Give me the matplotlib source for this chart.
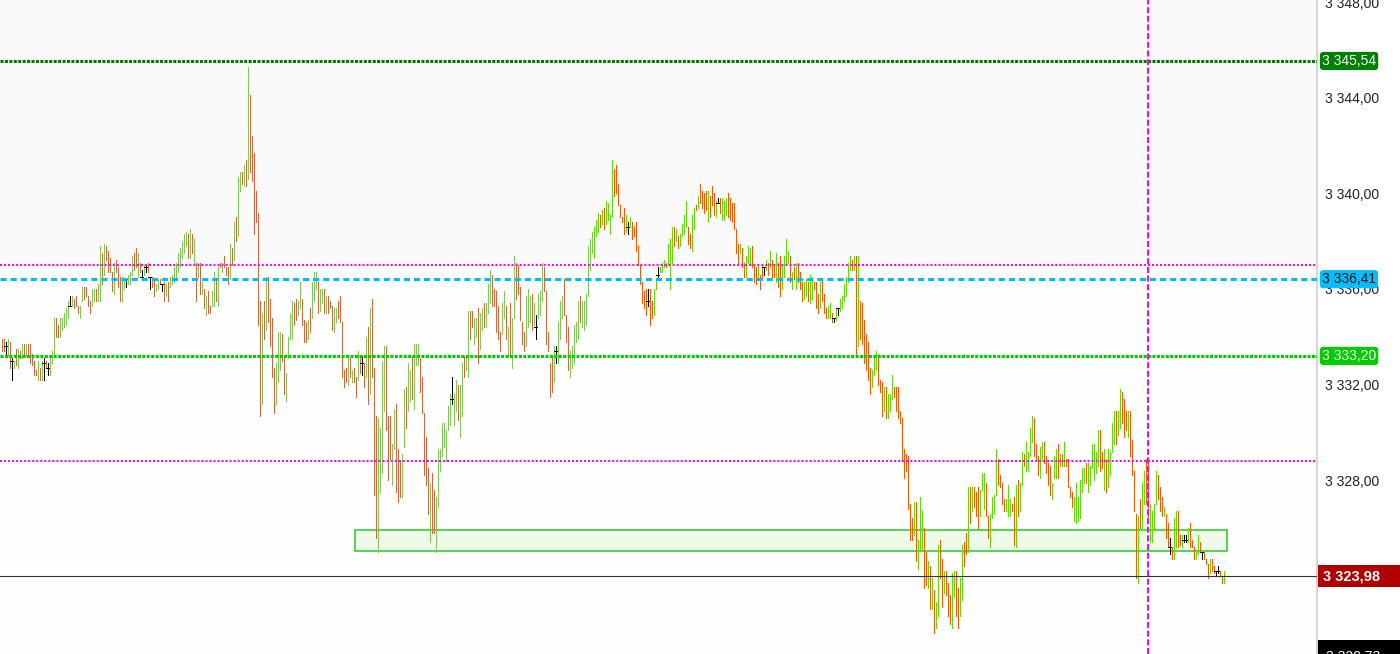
import matplotlib
matplotlib.use("Agg")
import matplotlib.pyplot as plt
import matplotlib.transforms as mtransforms
from matplotlib.patches import Rectangle
import numpy as np

plt.rcParams['font.family'] = ['Liberation Sans', 'DejaVu Sans']

# ---------------------------------------------------------------------------
# Data: bar highs / lows (one bar per index), direction u=up d=down n=flat
# ---------------------------------------------------------------------------
highs = [
    3333.9, 3333.9, 3333.8, 3333.9, 3333.8, 3333.1, 3333.0, 3333.5, 3333.5, 3333.4,
    3333.7, 3333.7, 3333.7, 3333.7, 3333.7, 3333.3, 3333.0, 3332.6, 3333.0, 3332.7,
    3333.0, 3333.1, 3333.0, 3332.9, 3333.2, 3333.4, 3334.8, 3334.8, 3334.5, 3334.8,
    3334.8, 3335.0, 3335.2, 3335.5, 3335.7, 3335.7, 3335.6, 3335.7, 3335.3, 3335.3,
    3336.1, 3336.1, 3336.1, 3335.7, 3335.5, 3336.0, 3336.0, 3336.0, 3336.2, 3337.8,
    3337.5, 3337.9, 3337.8, 3337.6, 3337.3, 3336.7, 3337.1, 3337.2, 3336.9, 3336.5,
    3336.5, 3336.4, 3336.4, 3336.6, 3336.7, 3337.4, 3337.5, 3337.7, 3337.5, 3337.1,
    3336.8, 3337.0, 3337.0, 3337.1, 3336.5, 3336.5, 3336.4, 3336.2, 3336.4, 3336.4,
    3336.2, 3336.3, 3336.2, 3336.3, 3336.5, 3336.6, 3336.9, 3337.1, 3337.5, 3337.7,
    3338.0, 3338.3, 3338.4, 3338.3, 3338.5, 3338.3, 3338.1, 3337.1, 3337.1, 3337.1,
    3336.3, 3336.0, 3335.7, 3335.9, 3335.3, 3335.9, 3336.7, 3336.4, 3336.9, 3337.1,
    3337.1, 3337.4, 3336.9, 3336.9, 3337.9, 3337.7, 3338.8, 3339.0, 3340.7, 3340.9,
    3340.9, 3341.2, 3341.4, 3345.3, 3344.1, 3342.4, 3341.7, 3340.1, 3339.2, 3335.5,
    3335.0, 3335.5, 3336.5, 3336.5, 3335.6, 3334.8, 3332.7, 3332.9, 3334.2, 3334.2,
    3334.1, 3333.1, 3332.5, 3334.0, 3335.0, 3335.5, 3335.4, 3335.6, 3335.5, 3336.3,
    3335.6, 3334.7, 3334.6, 3334.7, 3335.2, 3336.3, 3336.7, 3336.7, 3336.3, 3336.0,
    3336.0, 3336.0, 3335.7, 3335.7, 3335.5, 3335.3, 3335.2, 3335.2, 3335.5, 3335.7,
    3334.6, 3332.6, 3332.7, 3333.2, 3333.1, 3332.6, 3332.7, 3332.3, 3333.4, 3333.2,
    3333.2, 3332.9, 3334.0, 3334.4, 3335.2, 3335.6, 3332.7, 3330.7, 3330.6, 3330.2,
    3333.0, 3333.6, 3333.6, 3330.7, 3330.7, 3329.5, 3331.0, 3331.2, 3329.3, 3328.8,
    3329.1, 3331.8, 3331.9, 3332.9, 3332.6, 3333.2, 3333.7, 3333.7, 3333.7, 3333.1,
    3332.3, 3330.8, 3329.8, 3328.5, 3327.9, 3328.3, 3327.6, 3327.3, 3329.3, 3329.3,
    3330.4, 3330.4, 3330.1, 3331.1, 3331.6, 3332.3, 3331.6, 3332.2, 3332.0, 3332.0,
    3332.9, 3333.2, 3333.2, 3335.1, 3335.1, 3335.1, 3334.8, 3334.8, 3335.2, 3335.0,
    3335.2, 3335.4, 3335.4, 3336.2, 3336.8, 3336.6, 3336.0, 3335.9, 3335.3, 3334.2,
    3335.4, 3335.9, 3335.3, 3334.4, 3335.4, 3334.8, 3337.4, 3337.1, 3337.0, 3336.1,
    3334.6, 3334.2, 3335.7, 3336.0, 3335.7, 3335.8, 3335.4, 3334.9, 3335.8, 3335.9,
    3337.1, 3336.9, 3335.9, 3334.2, 3332.9, 3333.2, 3333.6, 3333.6, 3334.6, 3335.5,
    3335.7, 3336.4, 3334.9, 3334.4, 3333.4, 3333.6, 3334.5, 3334.6, 3335.5, 3335.7,
    3335.5, 3335.5, 3335.8, 3337.8, 3338.1, 3338.4, 3338.6, 3338.9, 3339.2, 3339.1,
    3339.3, 3339.4, 3339.7, 3339.6, 3339.1, 3341.4, 3341.0, 3341.2, 3340.4, 3339.5,
    3339.0, 3339.4, 3339.1, 3338.8, 3339.0, 3338.8, 3338.6, 3338.8, 3337.8, 3337.0,
    3336.3, 3335.9, 3336.0, 3336.0, 3336.0, 3335.5, 3336.0, 3336.4, 3336.9, 3336.9,
    3337.1, 3337.2, 3337.1, 3337.9, 3338.1, 3338.6, 3338.6, 3338.5, 3338.2, 3338.3,
    3338.7, 3339.1, 3339.7, 3338.6, 3338.3, 3339.1, 3339.4, 3339.5, 3339.9, 3340.4,
    3340.1, 3340.0, 3340.1, 3340.1, 3339.9, 3340.3, 3340.0, 3339.7, 3339.8, 3339.8,
    3339.8, 3339.7, 3339.8, 3340.0, 3339.8, 3339.6, 3339.6, 3338.5, 3337.9, 3337.9,
    3337.7, 3337.1, 3337.4, 3337.8, 3337.7, 3337.8, 3337.0, 3336.9, 3337.0, 3336.6,
    3337.0, 3336.9, 3337.2, 3337.1, 3337.6, 3337.2, 3337.0, 3337.5, 3337.1, 3337.4,
    3337.0, 3337.4, 3338.1, 3337.6, 3337.4, 3336.7, 3336.9, 3337.1, 3337.1, 3336.7,
    3336.3, 3336.3, 3336.4, 3336.3, 3336.6, 3336.5, 3336.3, 3336.3, 3335.8, 3336.4,
    3336.4, 3335.8, 3335.2, 3335.3, 3335.4, 3335.0, 3334.8, 3335.2, 3335.2, 3335.6,
    3335.7, 3336.2, 3336.5, 3337.1, 3337.4, 3337.2, 3337.4, 3337.4, 3337.4, 3335.5,
    3335.4, 3334.7, 3334.1, 3333.8, 3332.7, 3332.6, 3333.2, 3333.4, 3333.3, 3332.2,
    3332.1, 3331.9, 3331.9, 3331.6, 3331.6, 3332.4, 3331.9, 3331.9, 3331.9, 3330.9,
    3330.6, 3329.3, 3329.1, 3329.0, 3327.0, 3326.4, 3327.1, 3327.1, 3325.5, 3327.3,
    3326.7, 3326.0, 3325.0, 3324.6, 3324.4, 3323.9, 3323.4, 3322.9, 3325.3, 3325.5,
    3324.7, 3324.2, 3324.2, 3323.7, 3323.2, 3324.1, 3324.2, 3324.2, 3323.5, 3323.9,
    3325.3, 3325.4, 3325.8, 3327.7, 3327.7, 3327.7, 3327.7, 3327.5, 3327.7, 3327.6,
    3328.3, 3328.3, 3327.9, 3326.5, 3326.6, 3327.3, 3327.4, 3329.3, 3328.9, 3328.2,
    3327.9, 3327.2, 3327.2, 3327.8, 3327.2, 3327.0, 3327.3, 3327.8, 3328.0, 3327.9,
    3329.2, 3329.1, 3329.6, 3329.2, 3330.2, 3330.7, 3330.6, 3329.5, 3329.0, 3329.4,
    3329.6, 3329.6, 3329.0, 3328.7, 3328.6, 3327.9, 3329.0, 3329.3, 3329.5, 3329.1,
    3329.1, 3329.6, 3328.9, 3328.9, 3327.7, 3327.5, 3327.3, 3327.9, 3327.3, 3328.0,
    3328.5, 3328.5, 3328.7, 3328.7, 3328.6, 3329.5, 3329.5, 3329.2, 3330.1, 3330.1,
    3329.2, 3329.3, 3328.9, 3329.3, 3329.2, 3330.4, 3330.9, 3330.9, 3330.9, 3331.8,
    3331.7, 3331.4, 3330.9, 3330.9, 3330.9, 3329.7, 3328.4, 3326.6, 3326.5, 3327.2,
    3327.9, 3328.4, 3328.9, 3328.8, 3327.0, 3326.7, 3327.0, 3328.4, 3328.2, 3327.7,
    3327.3, 3326.9, 3326.6, 3326.2, 3325.6, 3325.2, 3326.4, 3326.7, 3326.7, 3325.7,
    3325.7, 3325.7, 3325.7, 3326.0, 3326.2, 3325.5, 3325.2, 3325.0, 3325.7, 3325.4,
    3325.0, 3325.0, 3324.7, 3324.5, 3324.7, 3324.7, 3324.4, 3324.2, 3324.4, 3324.2,
    3324.0, 3324.2,
]

lows = [
    3333.4, 3333.4, 3333.3, 3333.2, 3332.7, 3332.2, 3332.7, 3332.8, 3332.7, 3333.1,
    3333.1, 3333.2, 3333.2, 3333.2, 3332.9, 3332.8, 3332.4, 3332.4, 3332.2, 3332.2,
    3332.2, 3332.2, 3332.7, 3332.4, 3332.4, 3332.9, 3333.2, 3334.0, 3334.0, 3334.0,
    3334.3, 3334.4, 3334.5, 3334.8, 3335.3, 3335.3, 3335.2, 3335.3, 3335.0, 3334.8,
    3335.5, 3335.6, 3335.7, 3335.3, 3335.0, 3335.3, 3335.5, 3335.5, 3335.5, 3335.5,
    3336.2, 3336.6, 3337.2, 3336.7, 3336.7, 3335.9, 3335.8, 3336.7, 3336.1, 3335.5,
    3335.5, 3336.0, 3336.1, 3336.2, 3336.2, 3336.6, 3336.8, 3336.9, 3336.5, 3336.7,
    3336.5, 3336.6, 3336.7, 3336.7, 3336.0, 3336.1, 3335.7, 3335.9, 3336.0, 3336.2,
    3335.9, 3335.5, 3335.7, 3335.5, 3336.1, 3336.2, 3336.3, 3336.5, 3336.7, 3336.9,
    3337.3, 3337.5, 3337.8, 3337.3, 3337.3, 3337.5, 3337.1, 3335.5, 3336.5, 3335.8,
    3335.8, 3335.2, 3334.9, 3335.0, 3335.0, 3335.3, 3335.3, 3335.5, 3335.3, 3336.9,
    3336.7, 3336.9, 3336.6, 3336.2, 3336.4, 3337.0, 3337.2, 3338.0, 3338.2, 3340.1,
    3340.4, 3340.3, 3340.3, 3340.6, 3340.9, 3340.5, 3338.3, 3338.8, 3334.5, 3330.7,
    3331.2, 3333.9, 3334.3, 3334.6, 3333.6, 3332.3, 3330.8, 3331.2, 3332.1, 3332.6,
    3333.0, 3331.6, 3331.3, 3333.1, 3333.9, 3333.9, 3334.5, 3334.7, 3334.9, 3335.2,
    3334.5, 3333.8, 3333.8, 3333.9, 3334.2, 3334.8, 3335.5, 3336.0, 3335.0, 3335.1,
    3335.4, 3335.0, 3335.0, 3335.0, 3335.2, 3334.3, 3334.2, 3334.6, 3334.8, 3334.6,
    3332.3, 3331.9, 3332.1, 3332.0, 3332.3, 3332.1, 3332.1, 3331.5, 3332.2, 3332.5,
    3332.4, 3331.9, 3332.3, 3331.2, 3331.6, 3332.3, 3327.4, 3325.6, 3325.0, 3327.5,
    3328.3, 3330.9, 3330.1, 3328.0, 3328.9, 3327.8, 3329.3, 3327.5, 3327.1, 3327.3,
    3327.3, 3329.4, 3330.2, 3330.9, 3331.3, 3331.4, 3331.0, 3332.8, 3332.8, 3331.7,
    3330.8, 3328.2, 3327.8, 3326.6, 3325.4, 3325.8, 3325.8, 3325.0, 3326.9, 3328.4,
    3329.0, 3329.4, 3328.8, 3330.1, 3330.3, 3331.2, 3330.3, 3330.9, 3330.5, 3329.8,
    3330.7, 3332.3, 3332.6, 3332.3, 3333.9, 3334.4, 3333.7, 3334.0, 3332.9, 3333.5,
    3334.3, 3334.4, 3334.4, 3335.0, 3335.4, 3335.3, 3335.3, 3334.2, 3333.9, 3333.4,
    3334.1, 3334.8, 3333.9, 3333.2, 3333.2, 3332.7, 3334.8, 3335.6, 3335.8, 3334.7,
    3333.7, 3333.4, 3333.6, 3334.4, 3334.6, 3334.3, 3334.5, 3333.9, 3334.8, 3334.9,
    3335.5, 3335.9, 3333.7, 3333.4, 3331.5, 3331.7, 3332.1, 3332.9, 3332.9, 3333.9,
    3334.8, 3334.9, 3333.8, 3332.6, 3332.3, 3332.7, 3332.9, 3333.8, 3333.9, 3334.6,
    3334.4, 3334.3, 3334.5, 3335.7, 3336.8, 3337.5, 3337.3, 3338.2, 3338.4, 3338.6,
    3338.7, 3338.5, 3338.7, 3338.9, 3338.3, 3339.0, 3339.9, 3340.0, 3339.5, 3339.0,
    3338.8, 3338.3, 3338.4, 3338.3, 3338.6, 3338.1, 3338.2, 3337.6, 3337.0, 3336.2,
    3335.4, 3335.2, 3334.9, 3335.3, 3334.5, 3334.8, 3334.9, 3336.0, 3336.4, 3336.7,
    3336.7, 3336.9, 3336.9, 3337.0, 3336.0, 3337.1, 3337.8, 3338.0, 3337.7, 3337.8,
    3338.2, 3338.3, 3338.6, 3337.9, 3337.7, 3337.6, 3338.5, 3339.3, 3339.4, 3339.6,
    3339.4, 3339.2, 3339.3, 3338.8, 3339.0, 3339.5, 3339.1, 3339.0, 3339.6, 3339.2,
    3338.9, 3338.9, 3339.1, 3339.0, 3338.9, 3338.8, 3338.5, 3337.5, 3337.1, 3337.5,
    3336.9, 3336.5, 3336.5, 3337.1, 3337.0, 3336.9, 3336.3, 3336.2, 3336.4, 3336.0,
    3336.5, 3336.6, 3336.8, 3336.6, 3336.9, 3336.5, 3336.5, 3336.3, 3336.1, 3335.7,
    3336.0, 3336.5, 3337.1, 3337.1, 3336.3, 3336.0, 3336.4, 3336.0, 3336.3, 3336.0,
    3335.5, 3335.6, 3335.7, 3335.5, 3335.4, 3335.6, 3336.0, 3335.2, 3335.0, 3335.2,
    3335.5, 3335.0, 3334.8, 3334.8, 3334.8, 3334.6, 3334.6, 3334.7, 3334.9, 3335.1,
    3335.2, 3335.5, 3335.7, 3336.3, 3336.8, 3336.8, 3336.8, 3333.2, 3333.6, 3333.9,
    3333.7, 3332.9, 3332.6, 3332.2, 3331.6, 3331.9, 3332.4, 3332.6, 3332.0, 3331.7,
    3330.7, 3330.9, 3330.6, 3330.6, 3330.9, 3331.4, 3331.5, 3330.9, 3330.6, 3330.4,
    3328.8, 3328.1, 3328.4, 3326.8, 3325.5, 3325.5, 3325.7, 3324.6, 3324.3, 3325.1,
    3325.1, 3323.5, 3323.6, 3323.5, 3322.6, 3322.6, 3321.6, 3321.8, 3322.3, 3323.9,
    3322.7, 3323.3, 3323.2, 3322.3, 3322.0, 3321.8, 3323.1, 3322.3, 3321.8, 3322.3,
    3323.0, 3324.4, 3324.9, 3325.0, 3326.2, 3326.7, 3326.9, 3326.5, 3326.0, 3326.5,
    3327.6, 3326.8, 3326.5, 3325.6, 3325.2, 3326.4, 3326.6, 3327.4, 3327.8, 3327.7,
    3327.0, 3326.7, 3326.7, 3326.5, 3326.5, 3326.7, 3325.3, 3325.2, 3326.5, 3326.7,
    3327.8, 3328.6, 3328.4, 3328.4, 3329.0, 3329.6, 3329.0, 3328.8, 3328.2, 3328.1,
    3328.8, 3328.7, 3328.3, 3327.8, 3327.4, 3327.2, 3328.1, 3328.1, 3328.1, 3328.6,
    3328.6, 3328.6, 3328.6, 3327.7, 3327.3, 3326.9, 3326.3, 3326.2, 3326.3, 3326.4,
    3327.5, 3327.9, 3327.9, 3327.5, 3327.8, 3328.5, 3328.0, 3328.3, 3328.6, 3328.4,
    3328.5, 3327.6, 3327.5, 3327.7, 3328.2, 3329.2, 3329.5, 3329.5, 3329.9, 3330.2,
    3330.4, 3329.8, 3330.1, 3329.8, 3329.0, 3328.2, 3326.7, 3323.9, 3323.7, 3326.0,
    3326.0, 3327.0, 3327.0, 3326.3, 3325.4, 3325.4, 3325.9, 3327.0, 3327.2, 3326.7,
    3326.5, 3326.5, 3325.6, 3325.2, 3324.9, 3324.7, 3324.7, 3325.2, 3325.2, 3325.3,
    3325.2, 3325.4, 3325.4, 3325.4, 3325.2, 3325.2, 3324.7, 3324.7, 3324.9, 3325.0,
    3324.7, 3324.7, 3324.5, 3323.9, 3324.1, 3324.2, 3324.1, 3324.0, 3324.1, 3324.0,
    3323.7, 3323.7,
]

dirs = (
    "ddnudnudud" "ududddddud" "undnuuuddu" "uuuunudddu" "udddduuduu"
    "dudddduddd" "uunuuuddud" "nundndduud" "nduduuuuuu" "uuudududud"
    "ududduudud" "udddududuu" "dududddddd" "ududddduuu" "dduuuudduu"
    "ddduduuudu" "ududdduudd" "dddududdud" "ndududdduu" "uuddduuddd"
    "uuduuduuud" "ddddudduuu" "uuuuunuudu" "uduudduudu" "uduuuddddd"
    "uududuuddd" "dduuudunuu" "udddddunuu" "uddduuuuud" "uuuuuuuuud"
    "uduuuudddd" "ddunuddddd" "dddndduunu" "uuduuududu" "uuudduudud"
    "dddudddund" "uuuddddddu" "dduuudddud" "dnududdudd" "uuuudududd"
    "duuduudddu" "ddduudnunu" "uuuuududud" "ddddduuudd" "duduuudddd"
    "dddddduduu" "uddududuud" "duddduuddu" "uddududddu" "uudduuuudd"
    "dduuuddudu" "uduuuudddu" "udddduuudu" "dudddduuuu" "uuduuuuuud"
    "duduuuuduu" "ddduddddud" "uudduuuudd" "duddnduudd" "unnuddduud"
    "nddduddnnddu"
)

# open = close level of the flat (black) bars, in order of appearance
flat_close = [3333.6, 3333.0, 3332.9, 3332.7, 3335.3, 3336.4, 3336.5, 3336.9,
              3336.5, 3336.2, 3332.9, 3331.4, 3334.4, 3333.4, 3338.6, 3335.5,
              3336.6, 3339.6, 3336.9, 3334.8, 3335.2, 3325.2, 3325.5, 3325.5,
              3325.0, 3324.2, 3324.2]

# horizontal levels
level_top = 3345.54       # dark green
level_res = 3337.0        # magenta dotted
level_blue = 3336.41      # cyan dashed
level_green = 3333.20     # green dotted
level_sup = 3328.8        # magenta dotted
last_price = 3323.98
y_bottom, y_top = 3320.73, 3348.09

zone_lo, zone_hi = 3325.04, 3325.92
zone_from, zone_to = 177, 613
vline_bar = 573

tick_values = [3328, 3332, 3336, 3340, 3344, 3348]


def fmt(v):
    return f"{v:,.2f}".replace(",", " ").replace(".", ",")


assert len(highs) == len(lows) == len(dirs), (len(highs), len(lows), len(dirs))

# ---------------------------------------------------------------------------
fig = plt.figure(figsize=(14, 6.54), dpi=100)
ax = fig.add_axes([0, 0, 1317 / 1400, 1])
ax.set_facecolor('#fefefe')
ax.axhspan(level_res, y_top, color='#fafafa', lw=0, zorder=0)

x = np.arange(len(highs))
cut = 296  # older bars drawn in softer colours
colors = []
for i, d in enumerate(dirs):
    if d == 'n':
        colors.append('#000000')
    elif d == 'u':
        colors.append('#80c858' if i < cut else '#5edc0a')
    else:
        colors.append('#d8643c' if i < cut else '#ff5500')

# support zone
ax.add_patch(Rectangle((zone_from - 0.25, zone_lo), zone_to - zone_from, zone_hi - zone_lo,
                       facecolor='#edfbe8', edgecolor='#22cc22', lw=1.1, zorder=1))

ax.vlines(x, lows, highs, colors=colors, linewidth=0.68, antialiased=False, zorder=3)
flat_idx = x[np.array(list(dirs)) == 'n']
ax.hlines(flat_close, flat_idx - 0.55, flat_idx + 0.55, colors='black',
          linewidth=0.68, antialiased=False, zorder=4)

# levels
ax.axhline(level_top, color='#007700', lw=2.2, linestyle=(0, (1, 0.45)), zorder=5)
ax.axhline(level_res, color='#ff00ff', lw=1.45, linestyle=(0, (1, 1)), zorder=5)
ax.axhline(level_blue, color='#00bbff', lw=2.2, linestyle=(0, (2, 1.3)), zorder=5)
ax.axhline(level_green, color='#00cc00', lw=2.2, linestyle=(0, (1, 0.45)), zorder=5)
ax.axhline(level_sup, color='#ff00ff', lw=1.45, linestyle=(0, (1, 1)), zorder=5)
ax.axhline(last_price, color='#333333', lw=0.8, zorder=5)
ax.axvline(vline_bar, color='#ff00ff', lw=1.45, linestyle=(0, (3, 1.3)), zorder=5)

ax.set_xlim(-0.75, 657.75)
ax.set_ylim(y_bottom, y_top)

for s in ['top', 'left', 'bottom']:
    ax.spines[s].set_visible(False)
ax.spines['right'].set_color('#d6d6d6')
ax.spines['right'].set_linewidth(1.5)

ax.set_xticks([])
ax.yaxis.tick_right()
ax.set_yticks(tick_values)
ax.set_yticklabels([fmt(v) for v in tick_values])
ax.tick_params(axis='y', length=0, pad=6, labelsize=10, labelcolor='#222222')

# price labels on the right scale
trans = mtransforms.blended_transform_factory(ax.transAxes, ax.transData)
x_lab = 1322 / 1317
for val, fc, tc in [(level_top, '#008000', 'white'),
                    (level_blue, '#00bfff', '#111111'),
                    (level_green, '#00cc00', 'white')]:
    ax.text(x_lab, val, fmt(val), transform=trans, ha='left', va='center',
            fontsize=10, color=tc, clip_on=False, zorder=10,
            bbox=dict(boxstyle='round,pad=0.15,rounding_size=0.25', fc=fc, ec='none'))

box_w = (1400 - 1318) / 1317
ax.add_patch(Rectangle((1318 / 1317, last_price - 0.46), box_w, 0.92, transform=trans,
                       facecolor='#b00000', edgecolor='none', clip_on=False, zorder=9))
ax.text(1323 / 1317, last_price, fmt(last_price), transform=trans, ha='left', va='center',
        fontsize=10.5, fontweight='bold', color='white', clip_on=False, zorder=10)

ax.add_patch(Rectangle((1318 / 1317, y_bottom - 0.6), box_w, 1.2, transform=trans,
                       facecolor='black', edgecolor='none', clip_on=False, zorder=9))
ax.text(1326 / 1317, y_bottom - 0.12, fmt(y_bottom), transform=trans, ha='left', va='center',
        fontsize=10, color='white', clip_on=False, zorder=10)

fig.savefig('out.png', dpi=100)
plt.close(fig)
